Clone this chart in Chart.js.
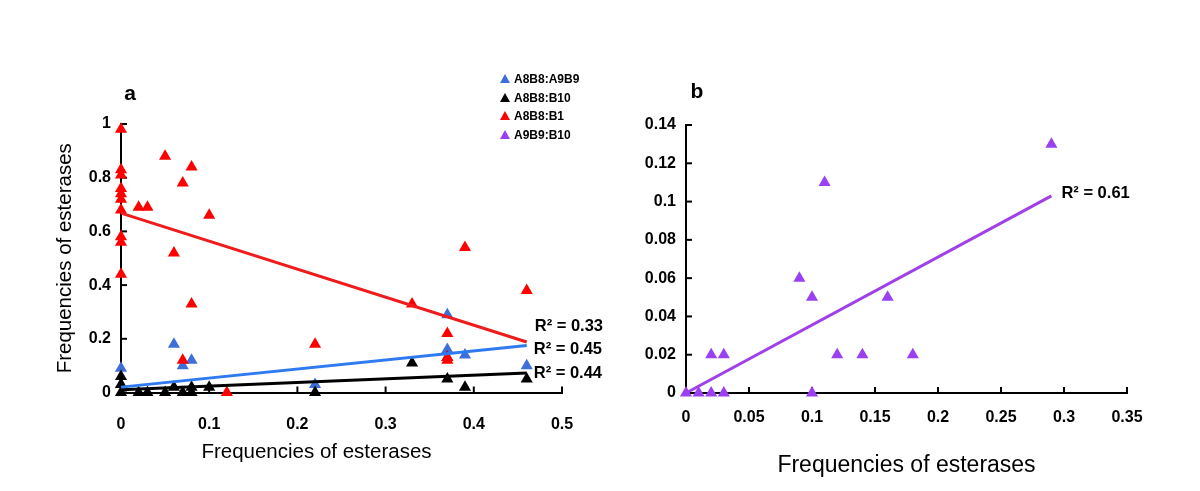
<!DOCTYPE html>
<html>
<head>
<meta charset="utf-8">
<script src="https://cdn.jsdelivr.net/npm/chart.js@4.4.1/dist/chart.umd.min.js"></script>
<style>
  body { margin: 0; background: #fff; width: 1200px; height: 491px; position: relative; overflow: hidden; }
  #boxA { position: absolute; left: 0; top: 0; width: 640px; height: 491px; }
  #boxB { position: absolute; left: 640px; top: 0; width: 560px; height: 491px; }
  #legenda { position: absolute; left: 500px; top: 70px; font: bold 12px "Liberation Sans", Arial, sans-serif; color: #000; }
  .item { height: 18.5px; line-height: 18.5px; white-space: nowrap; }
  .tri { display: inline-block; width: 0; height: 0; border-left: 5px solid transparent; border-right: 5px solid transparent; border-bottom: 9px solid #000; margin-right: 4px; }
</style>
</head>
<body>
<div id="boxA"><canvas id="graficoA"></canvas></div>
<div id="boxB"><canvas id="graficoB"></canvas></div>
<div id="legenda"></div>

<script>
// ==========================================
// DADOS
// ==========================================
const seriesNames = ['A8B8:A9B9', 'A8B8:B10', 'A8B8:B1', 'A9B9:B10'];
const seriesColors = ['#3d6fd9', '#000000', '#ff0000', '#9a40f0'];
const lineColors = ['#2f7af0', '#000000', '#ee1c1c', '#a040e8'];

// painel a
const a9b9X = [0, 0, 0.06, 0.07, 0.08, 0.22, 0.37, 0.37, 0.39, 0.46];
const a9b9Y = [0.09, 0.03, 0.18, 0.10, 0.12, 0.03, 0.29, 0.16, 0.14, 0.10];

const b10X = [0, 0, 0, 0.02, 0.03, 0.05, 0.06, 0.07, 0.08, 0.08, 0.10, 0.22, 0.33, 0.37, 0.37, 0.39, 0.46];
const b10Y = [0, 0.03, 0.06, 0, 0, 0, 0.02, 0, 0, 0.02, 0.02, 0, 0.11, 0.05, 0.13, 0.02, 0.05];

const b1X = [0, 0, 0, 0, 0, 0, 0, 0, 0, 0,
  0.02, 0.03, 0.05, 0.06, 0.07, 0.07, 0.08, 0.08, 0.10, 0.12, 0.22, 0.33, 0.37, 0.37, 0.37, 0.39, 0.46];
const b1Y = [0.98, 0.83, 0.81, 0.76, 0.74, 0.72, 0.68, 0.58, 0.56, 0.44,
  0.69, 0.69, 0.88, 0.52, 0.78, 0.12, 0.84, 0.33, 0.66, 0, 0.18, 0.33, 0.22, 0.13, 0.12, 0.54, 0.38];

// linhas de tendência do painel a (início e fim)
const trendAX = [0, 0.46];
const trendA9B9 = [0.02, 0.175];
const trendB10 = [0.01, 0.073];
const trendB1 = [0.668, 0.188];
const r2A = ['R² = 0.45', 'R² = 0.44', 'R² = 0.33'];

// painel b
const bX = [0, 0.01, 0.02, 0.03, 0.02, 0.03, 0.09, 0.10, 0.10, 0.11, 0.12, 0.14, 0.16, 0.18, 0.29];
const bY = [0, 0, 0, 0, 0.02, 0.02, 0.06, 0.05, 0, 0.11, 0.02, 0.02, 0.05, 0.02, 0.13];
const trendBX = [0, 0.29];
const trendBY = [0, 0.103];
const r2B = ['R² = 0.61'];

const axisTitle = 'Frequencies of esterases';

// ==========================================
// AUXILIARES
// ==========================================
const FONTE = '"Liberation Sans", Arial, sans-serif';
const FONTE_TICKS = { family: FONTE, weight: 'bold', size: 16 };

function pares(xs, ys) {
  return xs.map((x, i) => ({ x: x, y: ys[i] }));
}

function pontos(idx, xs, ys, ordem) {
  return {
    label: seriesNames[idx],
    data: pares(xs, ys),
    pointStyle: 'triangle',
    pointRadius: 7,
    pointHoverRadius: 7,
    pointBackgroundColor: seriesColors[idx],
    pointBorderWidth: 0,
    showLine: false,
    clip: false,
    order: ordem
  };
}

function tendencia(idx, xs, ys) {
  return {
    label: seriesNames[idx] + ' trend',
    data: pares(xs, ys),
    showLine: true,
    borderColor: lineColors[idx],
    borderWidth: 3,
    pointRadius: 0,
    clip: false,
    order: 0
  };
}

function eixo(min, max, extra) {
  return Object.assign({
    type: 'linear',
    min: min,
    max: max,
    grid: { drawOnChartArea: false, drawTicks: false },
    border: { display: true, color: '#000', width: 2 }
  }, extra);
}

function marcas(passo, pad) {
  return {
    stepSize: passo, color: '#000', padding: pad,
    font: FONTE_TICKS,
    callback: v => String(+v.toFixed(2))
  };
}

// marcas dos eixos viradas para dentro
const marcasInternas = {
  id: 'marcasInternas',
  beforeDatasetsDraw(chart) {
    const { ctx, chartArea, scales } = chart;
    ctx.save();
    ctx.strokeStyle = '#000';
    ctx.lineWidth = 2;
    scales.x.ticks.forEach(t => {
      const px = scales.x.getPixelForValue(t.value);
      ctx.beginPath();
      ctx.moveTo(px, chartArea.bottom);
      ctx.lineTo(px, chartArea.bottom - 6);
      ctx.stroke();
    });
    scales.y.ticks.forEach(t => {
      const py = scales.y.getPixelForValue(t.value);
      ctx.beginPath();
      ctx.moveTo(chartArea.left, py);
      ctx.lineTo(chartArea.left + 6, py);
      ctx.stroke();
    });
    ctx.restore();
  }
};

// letra do painel, R² e título do eixo x deslocado
const textosExtras = {
  id: 'textosExtras',
  afterDraw(chart, args, opts) {
    const { ctx, chartArea } = chart;
    ctx.save();
    ctx.fillStyle = '#000';
    ctx.textBaseline = 'middle';

    ctx.font = 'bold 21px ' + FONTE;
    ctx.textAlign = 'center';
    ctx.fillText(opts.letra, chartArea.left + opts.letraDx, chartArea.top + opts.letraDy);

    ctx.font = 'bold 16.5px ' + FONTE;
    ctx.textAlign = 'left';
    opts.rotulos.forEach(r => {
      const pts = chart.getDatasetMeta(r.dataset).data;
      const fim = pts[pts.length - 1];
      ctx.fillText(r.texto, fim.x + r.dx, fim.y + r.dy);
    });

    if (opts.tituloX) {
      ctx.font = '20.5px ' + FONTE;
      ctx.textAlign = 'center';
      ctx.fillText(opts.tituloX, (chartArea.left + chartArea.right) / 2 + opts.tituloDx, chartArea.bottom + opts.tituloDy);
    }
    ctx.restore();
  }
};

// ==========================================
// PAINEL A
// ==========================================
new Chart(document.getElementById('graficoA'), {
  type: 'scatter',
  data: {
    datasets: [
      tendencia(2, trendAX, trendB1),
      tendencia(0, trendAX, trendA9B9),
      tendencia(1, trendAX, trendB10),
      pontos(2, b1X, b1Y, 1),
      pontos(1, b10X, b10Y, 2),
      pontos(0, a9b9X, a9b9Y, 3)
    ]
  },
  options: {
    responsive: true,
    maintainAspectRatio: false,
    animation: false,
    devicePixelRatio: 1,
    layout: { padding: { left: 0, top: 124, right: 78, bottom: 23.5 } },
    plugins: {
      legend: { display: false },
      tooltip: { enabled: false },
      textosExtras: {
        letra: 'a', letraDx: 9, letraDy: -30,
        rotulos: [
          { dataset: 0, texto: r2A[2], dx: 8, dy: -16 },
          { dataset: 1, texto: r2A[0], dx: 7, dy: 4 },
          { dataset: 2, texto: r2A[1], dx: 7, dy: 1 }
        ],
        tituloX: axisTitle, tituloDx: -25, tituloDy: 60
      }
    },
    scales: {
      x: eixo(0, 0.5, {
        afterFit: s => { s.height = 75; },
        ticks: marcas(0.1, 22)
      }),
      y: eixo(0, 1, {
        afterFit: s => { s.width = 121; },
        ticks: marcas(0.2, 10),
        title: {
          display: true, text: axisTitle, color: '#000',
          font: { family: FONTE, size: 20.5 },
          padding: { top: 53, bottom: 0 }
        }
      })
    }
  },
  plugins: [marcasInternas, textosExtras]
});

// ==========================================
// PAINEL B
// ==========================================
new Chart(document.getElementById('graficoB'), {
  type: 'scatter',
  data: {
    datasets: [
      tendencia(3, trendBX, trendBY),
      pontos(3, bX, bY, 1)
    ]
  },
  options: {
    responsive: true,
    maintainAspectRatio: false,
    animation: false,
    devicePixelRatio: 1,
    layout: { padding: { left: 0, top: 125, right: 73, bottom: 12 } },
    plugins: {
      legend: { display: false },
      tooltip: { enabled: false },
      textosExtras: {
        letra: 'b', letraDx: 11, letraDy: -33,
        rotulos: [{ dataset: 0, texto: r2B[0], dx: 10, dy: -2 }]
      }
    },
    scales: {
      x: eixo(0, 0.35, {
        afterFit: s => { s.height = 86; },
        ticks: marcas(0.05, 15),
        title: {
          display: true, text: axisTitle, color: '#000',
          font: { family: FONTE, size: 23 },
          padding: { top: 0, bottom: 0 }
        }
      }),
      y: eixo(0, 0.14, {
        afterFit: s => { s.width = 46; },
        ticks: marcas(0.02, 10)
      })
    }
  },
  plugins: [marcasInternas, textosExtras]
});

// ==========================================
// LEGENDA (HTML)
// ==========================================
const legenda = document.getElementById('legenda');
seriesNames.forEach((nome, i) => {
  const item = document.createElement('div');
  item.className = 'item';
  item.innerHTML = '<span class="tri" style="border-bottom-color:' + seriesColors[i] + '"></span>' + nome;
  legenda.appendChild(item);
});
</script>
</body>
</html>
